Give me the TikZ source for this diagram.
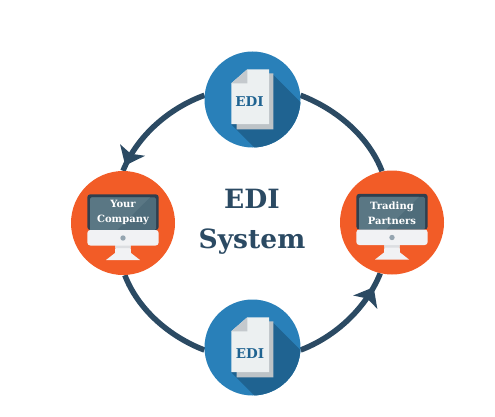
\documentclass[tikz,border=0pt]{standalone}
\usepackage{fontspec}
\setmainfont{DejaVu Serif}
\usetikzlibrary{arrows.meta,backgrounds,decorations.markings}

\definecolor{ringc}{HTML}{2B4A63}
\definecolor{blue1}{HTML}{2980B9}
\definecolor{blue2}{HTML}{1F6391}
\definecolor{orange1}{HTML}{F25C27}
\definecolor{page1}{HTML}{ECF0F1}
\definecolor{page2}{HTML}{BDC3C7}
\definecolor{screen1}{HTML}{4E6C7A}
\definecolor{screen2}{HTML}{5A7784}
\definecolor{frame1}{HTML}{2F3F4E}
\definecolor{base1}{HTML}{F1F2F4}
\definecolor{base2}{HTML}{DCDEE1}
\definecolor{dot1}{HTML}{95A5B0}

\tikzset{
    disc/.style={circle,inner sep=0pt,minimum size=#1},
    ring/.style={draw=ringc,line width=5.5pt},
    headmark/.style={postaction={decorate},decoration={markings,
        mark=at position #1 with {\arrow{Stealth[length=17pt,width=27pt,inset=4pt]}}}},
    edilabel/.style={text=blue2,font=\bfseries\fontsize{13.5}{14}\selectfont},
    screenlabel/.style={text=white,align=center,font=\bfseries\fontsize{10}{15}\selectfont},
    % page with its long shadow, cut to the disc
    edidoc/.pic={
        \begin{scope}
            \clip (0,0) circle (48);
            \fill [blue2] (20.8,24.5) -- (90,-44.7) -- (60,-106) -- (-21.2,-25) -- cycle;
        \end{scope}
        \fill [page2] (16.5,26.2) -- (20.8,26.2) -- (20.8,-29.8) -- (-15.8,-29.8) -- (-15.8,-24.5) -- (16.5,-24.5) -- cycle;
        \fill [page1] (-5.2,30.2) -- (16.5,30.2) -- (16.5,-24.5) -- (-21.2,-24.5) -- (-21.2,16.2) -- cycle;
        \fill [page2!90!white] (-5.2,30.2) -- (-5.2,16.2) -- (-21.2,16.2) -- cycle;
    },
    % monitor, text goes on top of it
    screen/.pic={
        \fill [frame1,rounded corners=3] (-35.7,-7) -- (-35.7,28.7) -- (35.7,28.7) -- (35.7,-7) -- cycle;
        \fill [screen1,rounded corners=1.5] (-33,-7) -- (-33,25.7) -- (33,25.7) -- (33,-7) -- cycle;
        \fill [screen2] (-31,25.7) -- (27,25.7) -- (-6,-7) -- (-33,-7) -- (-33,24) -- cycle;
        \fill [base1] (-7.5,-22) -- (7.5,-22) -- (8,-30) -- (17,-37) -- (-17,-37) -- (-8,-30) -- cycle;
        \fill [base2] (-7.5,-22) -- (7.5,-22) -- (7.7,-25) -- (-7.7,-25) -- cycle;
        \fill [base1,rounded corners=3] (-35.7,-7) -- (-35.7,-22.5) -- (35.7,-22.5) -- (35.7,-7) -- cycle;
        \fill [dot1] (0,-15) circle (2.7);
    }
}

\begin{document}
\begin{tikzpicture}[x=1pt,y=1pt]
    \useasboundingbox (0,0) rectangle (495,416);

    \node [disc=96pt,fill=blue1] (top) at (252.5,316.5) {};
    \node [disc=96pt,fill=blue1] (bottom) at (252.5,68.5) {};
    \node [disc=104pt,fill=orange1] (left) at (123,193) {};
    \node [disc=104pt,fill=orange1] (right) at (392,193.5) {};

    \pic at (top) {edidoc};
    \pic at (bottom) {edidoc};
    \pic at (left) {screen};
    \pic at (right) {screen};

    \node [edilabel] (topedi) at (249.5,314.5) {EDI};
    \node [edilabel] (bottomedi) at (250,62) {EDI};
    \node [screenlabel] (yourco) at (123,204) {Your\\Company};
    \node [screenlabel] (partners) at (392,203) {Trading\\Partners};

    \node [text=ringc,align=center,font=\bfseries\fontsize{26.5}{39.5}\selectfont] (system) at (252,194) {EDI\\System};

    % ring, counter clockwise
    \begin{scope}[on background layer]
        \draw [ring,headmark=.95] (top.175) to [out=200,in=68,looseness=.87] (left.90);
        \draw [ring] (left.-88) to [out=291,in=159,looseness=.87] (bottom.183);
        \draw [ring,headmark=.865] (bottom.-3) to [out=21,in=248,looseness=.87] (right.-103);
        \draw [ring] (right.101) to [out=111,in=-21,looseness=.87] (top.5);
    \end{scope}
\end{tikzpicture}
\end{document}
